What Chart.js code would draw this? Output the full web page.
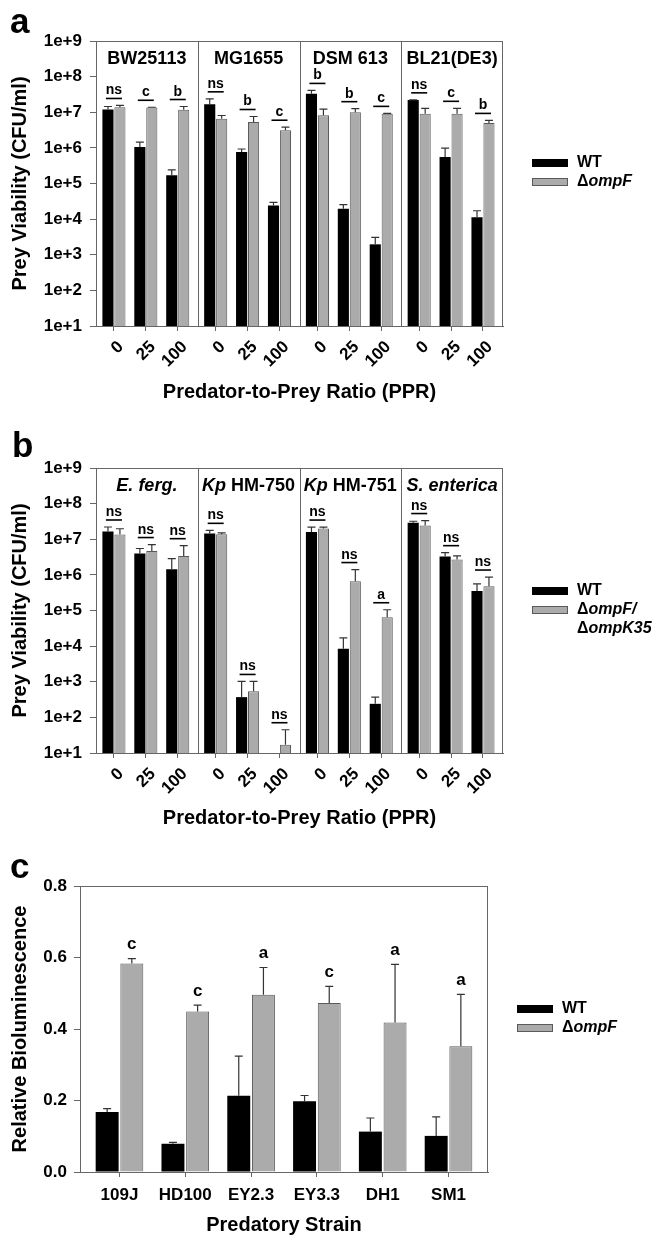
<!DOCTYPE html>
<html>
<head>
<meta charset="UTF-8">
<title>Prey viability and bioluminescence</title>
<script src="https://cdn.jsdelivr.net/npm/chart.js@4"></script>
<style>
  body { margin: 0; background: #fff; width: 653px; height: 1237px; overflow: hidden; }
  .panel { position: absolute; left: 0; width: 653px; }
  canvas { display: block; }
</style>
</head>
<body>
<div class="panel" style="top:0;height:412px"><canvas id="chartA" width="653" height="412"></canvas></div>
<div class="panel" style="top:412px;height:428px"><canvas id="chartB" width="653" height="428"></canvas></div>
<div class="panel" style="top:840px;height:397px"><canvas id="chartC" width="653" height="397"></canvas></div>

<script>
const FONT = "'Liberation Sans', Arial, Helvetica, sans-serif";

// shared
const ratios = ['0', '25', '100'];
const logTicks = [1e1, 1e2, 1e3, 1e4, 1e5, 1e6, 1e7, 1e8, 1e9];

// panel a - E. coli strains
const preyA = ['BW25113', 'MG1655', 'DSM 613', 'BL21(DE3)'];
const wtA = [1.2e7, 1.05e6, 1.7e5, 1.68e7, 7.6e5, 2.4e4, 3.3e7, 1.95e4, 1.96e3, 2.2e7, 5.5e5, 1.12e4];
const wtErrA = [2.5e6, 4e5, 7e4, 7e6, 1.7e5, 5.5e3, 8e6, 6e3, 1.1e3, 3e5, 4.3e5, 6e3];
const ompfA = [1.38e7, 1.35e7, 1.17e7, 6.6e6, 5.3e6, 3.1e6, 8.3e6, 1.0e7, 9.1e6, 9.1e6, 9.1e6, 5.0e6];
const ompfErrA = [1.7e6, 3e5, 2.8e6, 1.5e6, 2.3e6, 7e5, 4e6, 2.6e6, 2e5, 3.8e6, 3.8e6, 9e5];
const sigA = ['ns', 'c', 'b', 'ns', 'b', 'c', 'b', 'b', 'c', 'ns', 'c', 'b'];

// panel b - other enterobacteria
const preyB = ['E. ferg.', 'Kp HM-750', 'Kp HM-751', 'S. enterica'];
const preyBItalic = ['E. ferg.', 'Kp', 'Kp', 'S. enterica'];
const wtB = [1.66e7, 4.0e6, 1.45e6, 1.45e7, 3.7e2, null, 1.6e7, 8.5e3, 2.4e2, 2.9e7, 3.3e6, 3.5e5];
const wtErrB = [5.5e6, 1.5e6, 1.4e6, 3.3e6, 6.5e2, null, 6e6, 8.5e3, 1.3e2, 3e6, 9e5, 2.1e5];
const mutB = [1.37e7, 4.7e6, 3.4e6, 1.38e7, 5.4e2, 17, 2.0e7, 6.6e5, 6.5e4, 2.45e7, 2.7e6, 4.8e5];
const mutErrB = [6e6, 2.4e6, 3.2e6, 1.3e6, 4.8e2, 28, 2e6, 7.5e5, 4e4, 9e6, 7e5, 3.9e5];
const sigB = ['ns', 'ns', 'ns', 'ns', 'ns', 'ns', 'ns', 'ns', 'a', 'ns', 'ns', 'ns'];

// panel c - bioluminescence by predator
const strains = ['109J', 'HD100', 'EY2.3', 'EY3.3', 'DH1', 'SM1'];
const wtC = [0.168, 0.079, 0.213, 0.198, 0.113, 0.101];
const wtErrC = [0.009, 0.004, 0.111, 0.016, 0.038, 0.053];
const ompfC = [0.583, 0.449, 0.496, 0.473, 0.418, 0.352];
const ompfErrC = [0.014, 0.018, 0.076, 0.046, 0.163, 0.145];
const sigC = ['c', 'c', 'a', 'c', 'a', 'a'];
const linTicks = [0, 0.2, 0.4, 0.6, 0.8];

const GREY = '#ababab';
const EDGE = '#5a5a5a';
const AXIS = '#666';

// each prey block is 3 ratio slots plus a little gap
const BLOCK = 3.19;
const X0 = -0.5625;
const slotX = i => Math.floor(i / 3) * BLOCK + (i % 3);

function richText(ctx, parts, cx, cy, size) {
  // parts: [[text, italic], ...] drawn centred on cx
  const fonts = parts.map(p => (p[1] ? 'italic ' : '') + 'bold ' + size + 'px ' + FONT);
  let w = 0;
  parts.forEach((p, k) => { ctx.font = fonts[k]; w += ctx.measureText(p[0]).width; });
  let x = cx - w / 2;
  ctx.textAlign = 'left';
  ctx.textBaseline = 'middle';
  parts.forEach((p, k) => { ctx.font = fonts[k]; ctx.fillText(p[0], x, cy); x += ctx.measureText(p[0]).width; });
}

const errorBars = {
  id: 'errorBars',
  afterDatasetsDraw(chart) {
    const ctx = chart.ctx, ys = chart.scales.y;
    chart.data.datasets.forEach((ds, di) => {
      chart.getDatasetMeta(di).data.forEach((bar, i) => {
        const v = ds.data[i].y, e = ds.errors[i];
        if (v == null || e == null) return;
        const top = ys.getPixelForValue(v + e);
        ctx.save();
        ctx.strokeStyle = '#333';
        ctx.lineWidth = 1.2;
        ctx.beginPath();
        ctx.moveTo(bar.x, bar.y);
        ctx.lineTo(bar.x, top);
        ctx.moveTo(bar.x - 4, top);
        ctx.lineTo(bar.x + 4, top);
        ctx.stroke();
        ctx.restore();
      });
    });
  }
};

const decor = {
  id: 'decor',
  afterDraw(chart, args, o) {
    const ctx = chart.ctx, a = chart.chartArea, xs = chart.scales.x, ys = chart.scales.y;
    ctx.save();
    // frame + block dividers
    ctx.strokeStyle = AXIS;
    ctx.lineWidth = 1;
    ctx.strokeRect(a.left + 0.5, a.top + 0.5, a.right - a.left - 1, a.bottom - a.top);
    (o.dividers || []).forEach(d => {
      const px = Math.round(xs.getPixelForValue(d)) + 0.5;
      ctx.beginPath(); ctx.moveTo(px, a.top); ctx.lineTo(px, a.bottom); ctx.stroke();
    });
    // panel letter
    ctx.fillStyle = '#000';
    ctx.font = 'bold 35px ' + FONT;
    ctx.textAlign = 'left';
    ctx.textBaseline = 'alphabetic';
    ctx.fillText(o.letter[0], o.letter[1], o.letter[2]);
    // block names
    (o.names || []).forEach((n, k) => {
      const l = xs.getPixelForValue(X0 + k * BLOCK), r = xs.getPixelForValue(X0 + (k + 1) * BLOCK);
      const it = o.italics ? o.italics[k] : '';
      const parts = it ? [[it, true], [n.slice(it.length), false]] : [[n, false]];
      richText(ctx, parts, (l + r) / 2, a.top + 18, 18);
    });
    // significance marks
    const [d0, d1] = chart.data.datasets;
    o.sig.forEach((s, i) => {
      const tops = [d0, d1].map(ds => ds.data[i].y == null ? null : ys.getPixelForValue(ds.data[i].y + ds.errors[i])).filter(t => t != null);
      const top = Math.min(...tops);
      if (o.bracket) {
        const cx = xs.getPixelForValue(slotX(i)), ly = top - 7;
        ctx.strokeStyle = '#000';
        ctx.lineWidth = 1.6;
        ctx.beginPath(); ctx.moveTo(cx - 8, ly); ctx.lineTo(cx + 8, ly); ctx.stroke();
        ctx.font = 'bold 14px ' + FONT;
        ctx.textAlign = 'center';
        ctx.textBaseline = 'alphabetic';
        ctx.fillText(s, cx, ly - 4);
      } else {
        const bar = chart.getDatasetMeta(1).data[i];
        ctx.font = 'bold 17px ' + FONT;
        ctx.textAlign = 'center';
        ctx.textBaseline = 'middle';
        ctx.fillText(s, bar.x, top - 14);
      }
    });
    // legend
    const L = o.legend;
    o.legendRows.forEach((row, k) => {
      const y = L.y + k * 19;
      if (row.box) {
        ctx.fillStyle = row.box;
        ctx.fillRect(L.x, y - 4, 36, 8);
        if (row.box !== '#000') { ctx.strokeStyle = EDGE; ctx.lineWidth = 1; ctx.strokeRect(L.x + 0.5, y - 3.5, 35, 7); }
      }
      ctx.fillStyle = '#000';
      const parts = row.parts;
      let x = L.x + 45;
      ctx.textAlign = 'left';
      ctx.textBaseline = 'middle';
      parts.forEach(p => {
        ctx.font = (p[1] ? 'italic ' : '') + 'bold 16px ' + FONT;
        ctx.fillText(p[0], x, y);
        x += ctx.measureText(p[0]).width;
      });
    });
    ctx.restore();
  }
};

const tickFont = { family: FONT, size: 17, weight: 'bold' };
const titleFont = { family: FONT, size: 20, weight: 'bold' };

function viabilityChart(id, o) {
  const pts = arr => arr.map((v, i) => ({ x: slotX(i), y: v }));
  return new Chart(document.getElementById(id), {
    type: 'bar',
    data: {
      datasets: [
        { label: 'WT', data: pts(o.wt), errors: o.wtErr, backgroundColor: '#000', borderWidth: 0,
          categoryPercentage: 0.75, barPercentage: 0.93 },
        { label: o.mutLabel, data: pts(o.mut), errors: o.mutErr, backgroundColor: GREY, borderColor: EDGE, borderWidth: 1,
          categoryPercentage: 0.75, barPercentage: 0.93 }
      ]
    },
    options: {
      responsive: false,
      animation: false,
      layout: { padding: { top: o.top, right: 150, left: 0, bottom: 0 } },
      plugins: {
        legend: { display: false },
        tooltip: { enabled: false },
        decor: {
          letter: o.letter, names: o.names, italics: o.italics, sig: o.sig, bracket: true,
          dividers: [1, 2, 3].map(k => X0 + k * BLOCK),
          legend: o.legend, legendRows: o.legendRows
        }
      },
      scales: {
        x: {
          type: 'linear', offset: false,
          min: X0, max: X0 + 4 * BLOCK,
          afterBuildTicks: s => { s.ticks = o.wt.map((_, i) => ({ value: slotX(i) })); },
          afterFit: s => { s.height = o.xHeight; },
          ticks: { callback: (v, i) => ratios[i % 3], autoSkip: false, minRotation: 45, maxRotation: 45,
            font: tickFont, color: '#000', padding: 6, labelOffset: 7 },
          grid: { offset: false, drawOnChartArea: false, tickLength: 5, color: AXIS },
          border: { color: AXIS },
          title: { display: true, text: 'Predator-to-Prey Ratio (PPR)', font: titleFont, color: '#000',
            padding: { top: 0, bottom: o.titlePad } }
        },
        y: {
          type: 'logarithmic', min: 10, max: 1e9,
          afterBuildTicks: s => { s.ticks = logTicks.map(v => ({ value: v })); },
          afterFit: s => { s.width = 96; },
          ticks: { callback: v => '1e+' + Math.round(Math.log10(v)), font: tickFont, color: '#000', padding: 8 },
          grid: { drawOnChartArea: false, tickLength: 6, color: AXIS },
          border: { color: AXIS },
          title: { display: true, text: 'Prey Viability (CFU/ml)', font: titleFont, color: '#000',
            padding: { top: 8, bottom: 0 } }
        }
      }
    },
    plugins: [errorBars, decor]
  });
}

viabilityChart('chartA', {
  wt: wtA, wtErr: wtErrA, mut: ompfA, mutErr: ompfErrA, mutLabel: 'ΔompF', sig: sigA,
  names: preyA, italics: null, letter: ['a', 10, 33], top: 41, xHeight: 86, titlePad: 8,
  legend: { x: 532, y: 163 },
  legendRows: [
    { box: '#000', parts: [['WT', false]] },
    { box: GREY, parts: [['Δ', false], ['ompF', true]] }
  ]
});

viabilityChart('chartB', {
  wt: wtB, wtErr: wtErrB, mut: mutB, mutErr: mutErrB, mutLabel: 'ΔompF/ΔompK35', sig: sigB,
  names: preyB, italics: preyBItalic, letter: ['b', 12, 45], top: 56, xHeight: 87, titlePad: 10,
  legend: { x: 532, y: 179 },
  legendRows: [
    { box: '#000', parts: [['WT', false]] },
    { box: GREY, parts: [['Δ', false], ['ompF/', true]] },
    { box: null, parts: [['Δ', false], ['ompK35', true]] }
  ]
});

// panel c
new Chart(document.getElementById('chartC'), {
  type: 'bar',
  data: {
    datasets: [
      { label: 'WT', data: wtC.map((v, i) => ({ x: i, y: v })), errors: wtErrC, backgroundColor: '#000', borderWidth: 0,
        categoryPercentage: 0.75, barPercentage: 0.93 },
      { label: 'ΔompF', data: ompfC.map((v, i) => ({ x: i, y: v })), errors: ompfErrC, backgroundColor: GREY,
        borderColor: EDGE, borderWidth: 1, categoryPercentage: 0.75, barPercentage: 0.93 }
    ]
  },
  options: {
    responsive: false,
    animation: false,
    layout: { padding: { top: 46, right: 165, left: 0, bottom: 0 } },
    plugins: {
      legend: { display: false },
      tooltip: { enabled: false },
      decor: {
        letter: ['c', 10, 38], sig: sigC, bracket: false,
        legend: { x: 517, y: 169 },
        legendRows: [
          { box: '#000', parts: [['WT', false]] },
          { box: GREY, parts: [['Δ', false], ['ompF', true]] }
        ]
      }
    },
    scales: {
      x: {
        type: 'linear', offset: false, min: -0.6, max: strains.length - 0.4,
        afterBuildTicks: s => { s.ticks = strains.map((_, i) => ({ value: i })); },
        afterFit: s => { s.height = 65; },
        ticks: { callback: (v, i) => strains[i], autoSkip: false, maxRotation: 0, font: tickFont, color: '#000', padding: 8 },
        grid: { offset: false, drawOnChartArea: false, tickLength: 5, color: AXIS },
        border: { color: AXIS },
        title: { display: true, text: 'Predatory Strain', font: titleFont, color: '#000', padding: { top: 0, bottom: 0 } }
      },
      y: {
        min: 0, max: 0.8,
        afterBuildTicks: s => { s.ticks = linTicks.map(v => ({ value: v })); },
        afterFit: s => { s.width = 80; },
        ticks: { callback: v => v.toFixed(1), font: tickFont, color: '#000', padding: 7 },
        grid: { drawOnChartArea: false, tickLength: 6, color: AXIS },
        border: { color: AXIS },
        title: { display: true, text: 'Relative Bioluminescence', font: titleFont, color: '#000', padding: { top: 8, bottom: 0 } }
      }
    }
  },
  plugins: [errorBars, decor]
});
</script>
</body>
</html>
